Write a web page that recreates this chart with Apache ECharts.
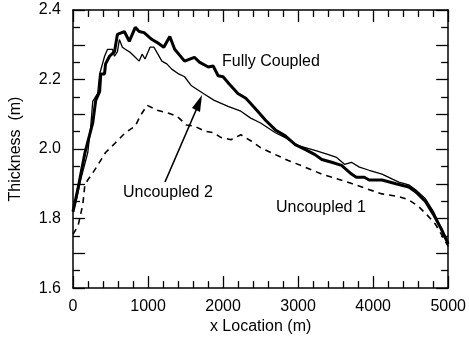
<!DOCTYPE html>
<html>
<head>
<meta charset="utf-8">
<script src="https://cdn.jsdelivr.net/npm/echarts@6/dist/echarts.min.js"></script>
<style>
html,body{margin:0;padding:0;background:#fff;}
#c{width:469px;height:340px;}
</style>
</head>
<body>
<div id="c"></div>
<script>
// Fully Coupled (thick solid)
var fullyX = [0,66,160,263,303,355,370,420,434,487,553,592,684,750,830,882,947,1053,1118,1210,1290,1355,1487,1618,1684,1803,1868,1934,2000,2079,2197,2303,2368,2461,2566,2697,2829,2961,3092,3224,3316,3447,3579,3711,3776,3882,3947,4118,4303,4474,4566,4697,4803,4908,5000];
var fullyY = [1.82,1.886,1.99,2.075,2.14,2.165,2.216,2.216,2.245,2.267,2.28,2.33,2.338,2.31,2.35,2.338,2.335,2.315,2.307,2.293,2.324,2.287,2.253,2.264,2.25,2.236,2.239,2.211,2.208,2.188,2.16,2.146,2.131,2.109,2.083,2.055,2.038,2.013,1.999,1.984,1.97,1.962,1.953,1.928,1.919,1.919,1.911,1.911,1.9,1.891,1.877,1.849,1.812,1.77,1.727];
// Uncoupled 2 (thin solid)
var unc2X = [0,40,105,197,237,263,329,355,421,460,526,553,592,618,658,697,763,816,882,921,960,1026,1079,1118,1184,1250,1316,1408,1487,1579,1737,1882,2066,2237,2368,2500,2697,2829,3000,3224,3395,3513,3618,3711,3816,3947,4118,4250,4342,4474,4566,4697,4803,4908,5000];
var unc2Y = [1.82,1.849,1.914,1.99,2.066,2.137,2.16,2.216,2.267,2.287,2.287,2.267,2.28,2.315,2.293,2.287,2.278,2.267,2.253,2.273,2.259,2.293,2.293,2.278,2.253,2.245,2.23,2.216,2.208,2.182,2.16,2.14,2.123,2.109,2.089,2.075,2.047,2.033,2.01,1.996,1.985,1.976,1.956,1.962,1.948,1.939,1.928,1.914,1.905,1.897,1.883,1.857,1.82,1.772,1.727];
// Uncoupled 1 (dashed)
var unc1X = [0,66,105,132,158,197,290,434,566,697,829,895,987,1118,1276,1382,1513,1618,1750,1868,1974,2105,2237,2368,2500,2697,2868,3092,3316,3526,3724,3908,4118,4342,4474,4605,4711,4829,4908,5000];
var unc1Y = [1.755,1.778,1.815,1.843,1.897,1.911,1.94,1.99,2.018,2.047,2.066,2.095,2.126,2.112,2.103,2.095,2.069,2.066,2.052,2.047,2.033,2.027,2.041,2.024,2.004,1.984,1.967,1.948,1.928,1.914,1.9,1.886,1.871,1.863,1.854,1.835,1.812,1.784,1.755,1.72];

var xTicks = [0,1000,2000,3000,4000,5000];
var yTickLabels = [1.6,1.8,2.0,2.2,2.4];

function zip(a,b){var r=[];for(var i=0;i<a.length;i++)r.push([a[i],b[i]]);return r;}

var FONT = '"Liberation Sans", Arial, sans-serif';
var FS = 16;
var chart = echarts.init(document.getElementById('c'), null, {renderer:'canvas'});
var axisLineStyle = {color:'#000', width:1.5};
function xAx(pos, showLabel){
  return {
    type:'value', position:pos, min:0, max:5000, interval:1000,
    name: showLabel ? 'x Location (m)' : '', nameLocation:'middle', nameGap:30,
    nameTextStyle:{fontFamily:FONT, fontSize:FS, color:'#000'},
    axisLine:{show:true, onZero:false, lineStyle:axisLineStyle},
    axisTick:{show:true, inside:true, length:12, lineStyle:{color:'#000', width:1.3}},
    minorTick:{show:true, splitNumber:5, length:7, lineStyle:{color:'#000', width:1.3}},
    splitLine:{show:false},
    axisLabel:{show:showLabel, margin:10, fontFamily:FONT, fontSize:FS, color:'#000',
      formatter:function(v){return xTicks.indexOf(v)>=0 ? String(v) : '';}}
  };
}
function yAx(pos, showLabel){
  return {
    type:'value', position:pos, min:1.6, max:2.4, interval:0.1,
    name: showLabel ? 'Thickness  (m)' : '', nameLocation:'middle', nameGap:49, nameRotate:90,
    nameTextStyle:{fontFamily:FONT, fontSize:FS, color:'#000'},
    axisLine:{show:true, onZero:false, lineStyle:axisLineStyle},
    axisTick:{show:true, inside:true, length:12, lineStyle:{color:'#000', width:1.3}},
    minorTick:{show:true, splitNumber:2, length:7, lineStyle:{color:'#000', width:1.3}},
    splitLine:{show:false},
    axisLabel:{show:showLabel, margin:12, fontFamily:FONT, fontSize:FS, color:'#000',
      formatter:function(v){
        var r = Math.round(v*10)/10;
        for (var i=0;i<yTickLabels.length;i++){ if (Math.abs(yTickLabels[i]-r)<1e-6) return r.toFixed(1); }
        return '';
      }}
  };
}
var TF = FS + 'px "Liberation Sans", Arial, sans-serif';
chart.setOption({
  animation:false,
  backgroundColor:'#fff',
  grid:{left:70, right:19, top:10, bottom:47, containLabel:false},
  xAxis:[xAx('bottom', true), xAx('top', false)],
  yAxis:[yAx('left', true), yAx('right', false)],
  series:[
    {name:'Fully Coupled', type:'line', data:zip(fullyX, fullyY), showSymbol:false, symbol:'none',
     lineStyle:{color:'#000', width:3}, z:3},
    {name:'Uncoupled 2', type:'line', data:zip(unc2X, unc2Y), showSymbol:false, symbol:'none',
     lineStyle:{color:'#000', width:1.3}, z:2},
    {name:'Uncoupled 1', type:'line', data:zip(unc1X, unc1Y), showSymbol:false, symbol:'none',
     lineStyle:{color:'#000', width:1.6, type:[6,5]}, z:2}
  ],
  graphic:[
    {type:'text', left:222, top:54, style:{text:'Fully Coupled', font:TF, fill:'#000'}},
    {type:'text', left:123, top:185, style:{text:'Uncoupled 2', font:TF, fill:'#000'}},
    {type:'text', left:276, top:200, style:{text:'Uncoupled 1', font:TF, fill:'#000'}},
    {type:'line', shape:{x1:165, y1:182, x2:197, y2:108}, style:{stroke:'#000', lineWidth:1.6}},
    {type:'polygon', shape:{points:[[202,95],[192,108],[200,112]]}, style:{fill:'#000'}}
  ]
});
</script>
</body>
</html>
